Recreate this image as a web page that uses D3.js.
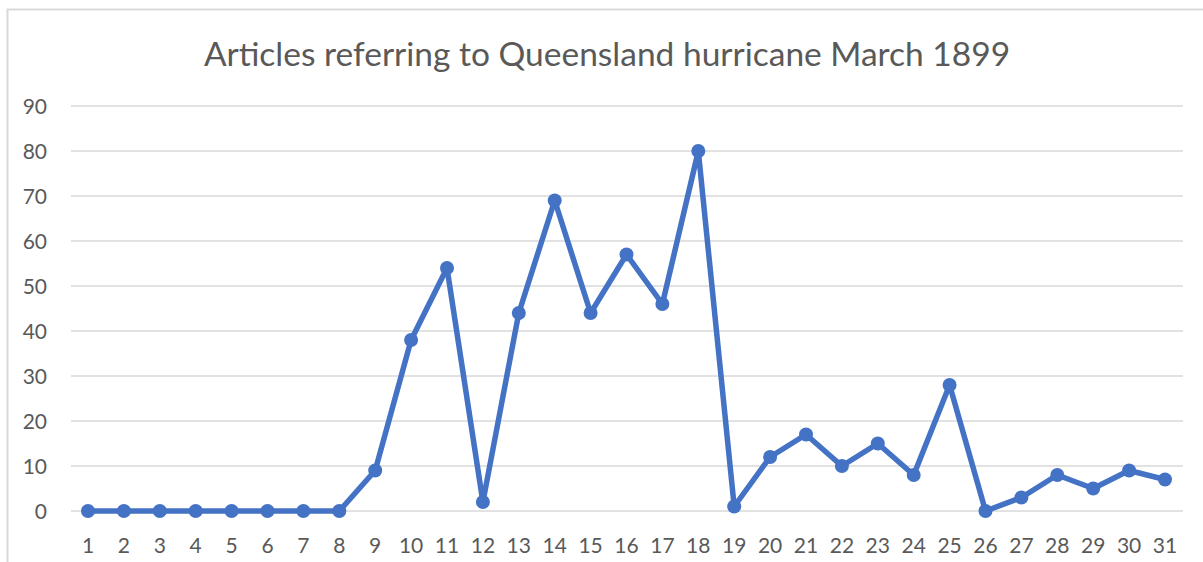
<!DOCTYPE html>
<html>
<head>
<meta charset="utf-8">
<script src="https://cdn.jsdelivr.net/npm/d3@7"></script>
<style>
	body { margin: 0; background: #fff; }
	svg { display: block; font-family: Lato, "Open Sans", sans-serif; }
</style>
</head>
<body>
<div id="graphArea"></div>
<script>
// days of March 1899
var days = d3.range(1, 32)
// number of articles per day
var articles = [0, 0, 0, 0, 0, 0, 0, 0, 9, 38, 54, 2, 44, 69, 44, 57, 46, 80, 1, 12, 17, 10, 15, 8, 28, 0, 3, 8, 5, 9, 7]
// y axis ticks
var yTicks = [0, 10, 20, 30, 40, 50, 60, 70, 80, 90]
var title = "Articles referring to Queensland hurricane March 1899"

var width = 1203
var height = 562

var svg = d3.select("#graphArea")
	.append("svg")
	.attr("width", width)
	.attr("height", height)

// outer frame of the chart, partly cut off at right and bottom
svg.append("rect")
	.attr("x", 7.5)
	.attr("y", 9.5)
	.attr("width", 1300)
	.attr("height", 700)
	.attr("fill", "#fff")
	.attr("stroke", "#d9d9d9")
	.attr("stroke-width", 2)

svg.append("text")
	.attr("x", 607)
	.attr("y", 66)
	.attr("text-anchor", "middle")
	.attr("fill", "#595959")
	.style("font-size", "33.5px")
	.text(title)

var plotLeft = 71, plotRight = 1183

var x = d3.scalePoint()
	.domain(days)
	.range([88, 1165])

var y = d3.scaleLinear()
	.domain([0, 90])
	.range([511, 106])

// gridlines
svg.append("g")
	.selectAll("line")
	.data(yTicks)
	.enter()
	.append("line")
	.attr("x1", plotLeft)
	.attr("x2", plotRight)
	.attr("y1", function(d) { return y(d) })
	.attr("y2", function(d) { return y(d) })
	.attr("stroke", "#d9d9d9")
	.attr("stroke-width", 1.5)

// y labels
svg.append("g")
	.selectAll("text")
	.data(yTicks)
	.enter()
	.append("text")
	.attr("x", 47)
	.attr("y", function(d) { return y(d) })
	.attr("dy", "0.36em")
	.attr("text-anchor", "end")
	.attr("fill", "#595959")
	.style("font-size", "21px")
	.text(function(d) { return d })

// x labels
svg.append("g")
	.selectAll("text")
	.data(days)
	.enter()
	.append("text")
	.attr("x", function(d) { return x(d) })
	.attr("y", 553)
	.attr("text-anchor", "middle")
	.attr("fill", "#595959")
	.style("font-size", "21px")
	.text(function(d) { return d })

var line = d3.line()
	.x(function(d, i) { return x(days[i]) })
	.y(function(d) { return y(d) })

svg.append("path")
	.datum(articles)
	.attr("d", line)
	.attr("fill", "none")
	.attr("stroke", "#4472c4")
	.attr("stroke-width", 5.5)
	.attr("stroke-linejoin", "round")

svg.append("g")
	.selectAll("circle")
	.data(articles)
	.enter()
	.append("circle")
	.attr("cx", function(d, i) { return x(days[i]) })
	.attr("cy", function(d) { return y(d) })
	.attr("r", 7)
	.attr("fill", "#4472c4")
</script>
</body>
</html>
